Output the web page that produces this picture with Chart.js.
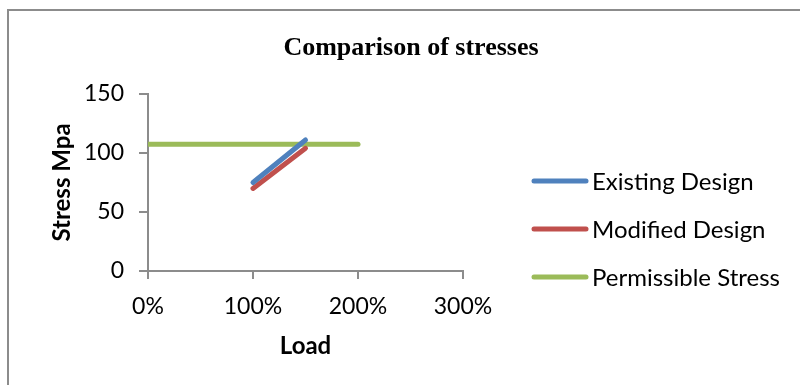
<!DOCTYPE html>
<html>
<head>
<meta charset="utf-8">
<script src="https://cdn.jsdelivr.net/npm/chart.js@4.4.1/dist/chart.umd.min.js"></script>
<style>
  html, body { margin: 0; padding: 0; background: #ffffff; }
  #c { display: block; }
</style>
</head>
<body>
<canvas id="c" width="800" height="385"></canvas>
<script>
// ---- data ----
const chartTitle = 'Comparison of stresses';
const xTitle = 'Load';
const yTitle = 'Stress Mpa';
const seriesNames = ['Existing Design', 'Modified Design', 'Permissible Stress'];
const existingLoad = [1.0, 1.5];
const existingStress = [75, 111];
const modifiedLoad = [1.0, 1.5];
const modifiedStress = [70, 104];
const permissibleLoad = [0, 2.0];
const permissibleStress = [107.5, 107.5];
const xTicks = [0, 1, 2, 3];          // shown as 0%,100%,200%,300%
const yTicks = [0, 50, 100, 150];

const colors = ['#4F81BD', '#C0504D', '#9BBB59'];
const sansFont = 'Lato, "Open Sans", sans-serif';
const axisColor = '#8c8c8c';

function pts(xs, ys) { return xs.map((x, i) => ({ x: x, y: ys[i] })); }

const frameAndText = {
  id: 'frameAndText',
  beforeDraw(chart) {
    const ctx = chart.ctx;
    ctx.save();
    ctx.fillStyle = '#ffffff';
    ctx.fillRect(0, 0, chart.width, chart.height);
    ctx.strokeStyle = '#8c8c8c';
    ctx.lineWidth = 2;
    ctx.strokeRect(8, 10, chart.width + 50, chart.height + 50);
    ctx.restore();
  },
  afterDraw(chart) {
    const ctx = chart.ctx;
    ctx.save();
    // title
    ctx.fillStyle = '#000000';
    ctx.font = 'bold 26px "Liberation Serif", "Times New Roman", serif';
    ctx.textAlign = 'center';
    ctx.textBaseline = 'middle';
    ctx.fillText(chartTitle, 411, 48);
    // legend
    const rows = [181, 229, 277];
    ctx.font = '24px ' + sansFont;
    ctx.textAlign = 'left';
    chart.data.datasets.forEach((ds, i) => {
      const y = rows[i];
      ctx.strokeStyle = ds.borderColor;
      ctx.lineWidth = 5;
      ctx.lineCap = 'round';
      ctx.beginPath();
      ctx.moveTo(534, y);
      ctx.lineTo(586, y);
      ctx.stroke();
      ctx.fillStyle = '#000000';
      ctx.fillText(ds.label, 592, y + 1);
    });
    ctx.restore();
  }
};

new Chart(document.getElementById('c'), {
  type: 'line',
  data: {
    datasets: [
      { label: seriesNames[0], data: pts(existingLoad, existingStress), borderColor: colors[0], backgroundColor: colors[0] },
      { label: seriesNames[1], data: pts(modifiedLoad, modifiedStress), borderColor: colors[1], backgroundColor: colors[1] },
      { label: seriesNames[2], data: pts(permissibleLoad, permissibleStress), borderColor: colors[2], backgroundColor: colors[2] }
    ]
  },
  options: {
    responsive: false,
    animation: false,
    devicePixelRatioOverride: 1,
    layout: { padding: { left: 0, top: 94, right: 337, bottom: 0 } },
    elements: {
      line: { borderWidth: 5, borderCapStyle: 'round', tension: 0, fill: false },
      point: { radius: 0, hoverRadius: 0 }
    },
    plugins: {
      legend: { display: false },
      title: { display: false },
      tooltip: { enabled: false }
    },
    scales: {
      x: {
        type: 'linear',
        min: xTicks[0],
        max: xTicks[xTicks.length - 1],
        afterBuildTicks(scale) { scale.ticks = xTicks.map(v => ({ value: v })); },
        afterFit(scale) { scale.height = 114; },
        ticks: {
          color: '#000000',
          font: { family: sansFont, size: 23 },
          padding: 14,
          maxRotation: 0,
          callback: v => Math.round(v * 100) + '%'
        },
        grid: { drawOnChartArea: false, drawTicks: true, tickLength: 8, color: axisColor, lineWidth: 2 },
        border: { display: true, color: axisColor, width: 2 },
        title: {
          display: true, text: xTitle, color: '#000000',
          font: { family: sansFont, size: 24, weight: 'bold' },
          padding: { top: 0, bottom: 24 }
        }
      },
      y: {
        type: 'linear',
        min: yTicks[0],
        max: yTicks[yTicks.length - 1],
        afterBuildTicks(scale) { scale.ticks = yTicks.map(v => ({ value: v })); },
        afterFit(scale) { scale.width = 148; },
        ticks: {
          color: '#000000',
          font: { family: sansFont, size: 23 },
          padding: 15
        },
        grid: { drawOnChartArea: false, drawTicks: true, tickLength: 9, color: axisColor, lineWidth: 2 },
        border: { display: true, color: axisColor, width: 2 },
        title: {
          display: true, text: yTitle, color: '#000000',
          font: { family: sansFont, size: 24, weight: 'bold' },
          padding: { top: 48, bottom: 0 }
        }
      }
    }
  },
  plugins: [frameAndText]
});
</script>
</body>
</html>
